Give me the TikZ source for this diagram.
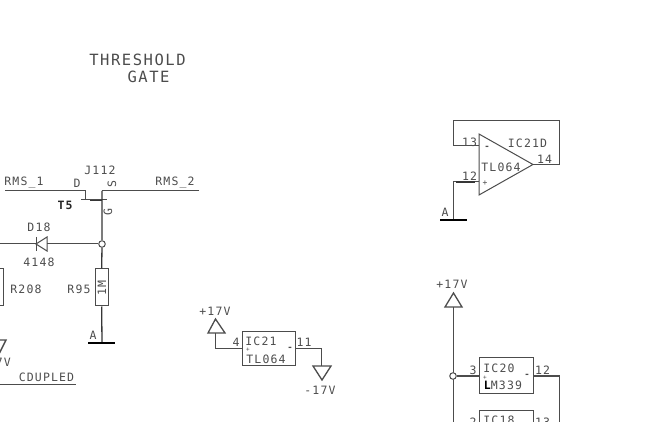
\documentclass[tikz,border=0pt]{standalone}
\usepackage{fontspec}
\newfontfamily\cadfont[LetterSpace=10]{DejaVu Sans Mono}
\newfontfamily\cadfontb[LetterSpace=10]{DejaVu Sans Mono Bold}
\newcommand{\szL}{\fontsize{15.5}{16}\selectfont}
\newcommand{\szM}{\fontsize{11.5}{12}\selectfont}
\usetikzlibrary{calc}
\definecolor{ink}{gray}{0.3}
\tikzset{
  wire/.style={draw=ink,line width=1pt},
  heavy/.style={draw=ink!70!black,line width=1.3pt},
  bar/.style={draw=black,line width=1.8pt},
  part/.style={draw=ink,line width=1pt},
  lbl/.style={inner sep=0pt,text=ink,font=\cadfont\szM},
  big/.style={inner sep=0pt,text=ink,font=\cadfont\szL},
  dotn/.style={circle,draw=ink,line width=1pt,minimum size=6.5pt,inner sep=0pt},
}
\begin{document}
\begin{tikzpicture}[x=1pt,y=-1pt]
\useasboundingbox (0,0) rectangle (662,422);
\clip (0,0) rectangle (662,422);
\node[big] (ttl1) at (137.5,60) {THRESHOLD};
\node[big] (ttl2) at (148.5,77) {GATE};
% JFET
\coordinate (rmsL) at (5,191); \coordinate (dtop) at (85,191);
\coordinate (ddn) at (85,200); \coordinate (stop) at (102,191);
\coordinate (rmsR) at (199,191); \coordinate (gl) at (81,200); \coordinate (gr) at (107,200);
\draw[wire] (rmsL) -- (dtop) -- (ddn);
\draw[wire] (gl) -- (gr);
\draw[heavy] (90,200.3) -- (102,200.3);
\draw[wire] (rmsR) -- (stop);
\node[dotn] (j1) at (102,244) {};
\node[part,draw,minimum width=13pt,minimum height=37pt,inner sep=0pt] (r95) at (101.5,287.5) {};
\node[lbl,rotate=90] (r95v) at (102,288) {1M};
\coordinate (a1) at (102,343);
\draw[heavy] (stop) -- (j1) -- (r95) -- (a1);
\draw[bar] (88,343) -- (115,343);
\node[lbl] (l1) at (24,183) {RMS\_1};
\node[lbl] (l2) at (175,183) {RMS\_2};
\node[lbl] (j112) at (100,170) {J112};
\node[lbl] (ld) at (77,183) {D};
\node[lbl,rotate=90] (ls) at (112,184) {S};
\node[lbl,rotate=90] (lg) at (108,212) {G};
\node[lbl,font=\cadfontb\szM,text=black!85] (t5) at (65,205) {T5};
% Diode
\coordinate (dl) at (0,244);
\draw[wire] (dl) -- (36,244);
\draw[wire] (47,244) -- (j1);
\draw[part] (36,237) -- (36,251);
\draw[part] (36,244) -- (47,237) -- (47,251) -- cycle;
\node[lbl] (d18) at (39,227) {D18};
\node[lbl] (v4148) at (39,262) {4148};
\node[lbl] (r95t) at (79,289) {R95};
\node[lbl] (r208t) at (26,289) {R208};
\node[part,draw,minimum width=13pt,minimum height=37pt,inner sep=0pt] (r208) at (-3.5,287.5) {};
% left bottom
\draw[part,line width=1.4pt] (-7,340) -- (6,340) -- (0,352) -- cycle;
\node[lbl,anchor=east] (v7) at (11,362) {7V};
\node[lbl] (coup) at (46.5,377) {CDUPLED};
\coordinate (cl) at (0,384); \coordinate (cr) at (76,384);
\draw[wire] (cl) -- (cr);
% IC21 supply
\node[part,draw,minimum width=53pt,minimum height=34pt,inner sep=0pt] (ic21) at (268.5,349) {};
\draw[part,line width=1.3pt] (215.5,319) -- (225,333) -- (208,333) -- cycle;
\coordinate (p1) at (215.5,333);
\draw[wire] (p1) -- (215.5,349) -- (ic21.west);
\draw[wire] (ic21.east) -- (321.5,349) -- (321.5,366);
\draw[part,line width=1.3pt] (313,366) -- (331,366) -- (322,380) -- cycle;
\node[lbl] (a) at (215,311) {+17V};
\node[lbl] (b) at (236,342) {4};
\node[lbl] (c) at (261,341) {IC21};
\node[lbl,font=\cadfont\fontsize{6}{6}\selectfont] (d) at (248,350) {+};
\node[lbl,font=\cadfontb\fontsize{9}{9}\selectfont] (e) at (290,349) {-};
\node[lbl] (f) at (266,359) {TL064};
\node[lbl] (g) at (304,342) {11};
\node[lbl] (h) at (320,390) {-17V};
% Opamp IC21D
\coordinate (o1) at (479,134); \coordinate (o2) at (533,164.5); \coordinate (o3) at (479,195);
\draw[part] (o1) -- (o2) -- (o3) -- cycle;
\draw[wire] (479,146) -- (453,146) -- (453,121) -- (559,121) -- (559,164.5) -- (o2);
\draw[wire] (479,182) -- (453,182) -- (453,220);
\draw[heavy] (456,182) -- (475,182);
\draw[bar] (440,220) -- (467,220);
\node[lbl] (i) at (469.5,142) {13};
\node[lbl,font=\cadfontb\fontsize{9}{9}\selectfont] (k) at (487,148) {-};
\node[lbl] (m) at (527.5,143) {IC21D};
\node[lbl] (n) at (501,167) {TL064};
\node[lbl] (o) at (544.5,159) {14};
\node[lbl] (p) at (469.5,176.5) {12};
\node[lbl,font=\cadfont\fontsize{8}{8}\selectfont] (q) at (485,183) {+};
\node[lbl] (r) at (445,212) {A};
\node[lbl] (a2) at (93,335) {A};
% IC20
\node[lbl] (s) at (452,284) {+17V};
\draw[part,line width=1.3pt] (453.5,293) -- (462,307) -- (445,307) -- cycle;
\coordinate (t1) at (453,307); \coordinate (t2) at (453,423);
\draw[wire] (t1) -- (t2);
\node[dotn,fill=white] (j2) at (453,376) {};
\node[part,draw,minimum width=54pt,minimum height=35pt,inner sep=0pt] (ic20) at (506,375.5) {};
\draw[wire] (j2) -- (ic20.west |- j2);
\draw[wire] (ic20.east |- j2) -- (559,376) -- (559,423);
\node[lbl] (u) at (473,370) {3};
\node[lbl] (v) at (499,368) {IC20};
\node[lbl,font=\cadfont\fontsize{6}{6}\selectfont] (w) at (485,378) {+};
\node[lbl,font=\cadfontb\fontsize{9}{9}\selectfont] (x) at (527,376) {-};
\node[lbl] (y) at (503,385) {\cadfontb\szM\textcolor{black}{L}\cadfont\szM M339};
\node[lbl] (z) at (542.5,370) {12};
% IC18 clipped
\node[part,draw,minimum width=54pt,minimum height=35pt,inner sep=0pt] (ic18) at (506,427.5) {};
\node[lbl] (aa) at (499,420) {IC18};
\node[lbl] (ab) at (473,422) {2};
\node[lbl] (ac) at (542.5,422) {13};
\end{tikzpicture}
\end{document}
